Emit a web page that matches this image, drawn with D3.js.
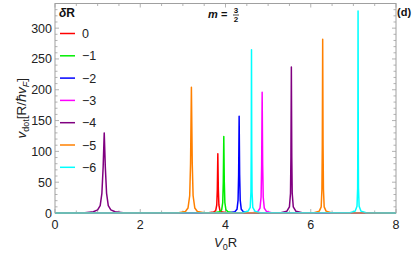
<!DOCTYPE html>
<html>
<head>
<meta charset="utf-8">
<script src="https://cdn.jsdelivr.net/npm/d3@7"></script>
<style>
  body { margin: 0; background: #fff; }
  svg { display: block; font-family: "Liberation Sans", Arial, sans-serif; }
</style>
</head>
<body>
<div id="chart"></div>
<script>
// values
const seriesLabels = ["0", "\u22121", "\u22122", "\u22123", "\u22124", "\u22125", "\u22126"];
const seriesColors = ["#ff0000", "#00ee00", "#0000ff", "#ff00ff", "#800080", "#ff8000", "#00ffff"];

const curve0 = [[0,0],[3.6,0.5],[3.72,1.5],[3.77,4],[3.795,13],[3.808,38],[3.82,96],[3.832,38],[3.845,13],[3.87,4],[3.92,1.5],[4.05,0.5],[8,0]];
const curve1 = [[0,0],[3.74,0.5],[3.86,2],[3.91,5],[3.935,17],[3.948,50],[3.96,124],[3.972,50],[3.985,17],[4.01,5],[4.06,2],[4.18,0.5],[8,0]];
const curve2 = [[0,0],[4.1,0.5],[4.22,2],[4.27,6],[4.295,21],[4.308,62],[4.32,157],[4.332,62],[4.345,21],[4.37,6],[4.42,2],[4.54,0.5],[8,0]];
const curve3 = [[0,0],[4.64,0.5],[4.76,2.5],[4.81,8],[4.835,26],[4.848,78],[4.86,196],[4.872,78],[4.885,26],[4.91,8],[4.96,2.5],[5.08,0.5],[8,0]];
const curve4 = [[0,0],[0.7,0.5],[0.9,2],[1.0,5],[1.06,12],[1.1,32],[1.13,75],[1.155,130],[1.18,75],[1.21,32],[1.25,12],[1.31,5],[1.41,2],[1.6,0.5],
                [5.3,0.5],[5.44,3],[5.5,10],[5.525,32],[5.535,90],[5.545,237],[5.555,90],[5.565,32],[5.59,10],[5.65,3],[5.8,0.5],[8,0]];
const curve5 = [[0,0],[2.9,0.5],[3.06,2.5],[3.12,8],[3.16,28],[3.18,80],[3.2,204],[3.22,80],[3.24,28],[3.28,8],[3.34,2.5],[3.5,0.5],
                [6.08,0.5],[6.2,3],[6.245,10],[6.262,38],[6.271,110],[6.28,282],[6.289,110],[6.298,38],[6.315,10],[6.36,3],[6.48,0.5],[8,0]];
const curve6 = [[0,0],[4.4,0.5],[4.53,3],[4.58,9],[4.597,34],[4.604,100],[4.61,265],[4.616,100],[4.623,34],[4.64,9],[4.69,3],[4.82,0.5],
                [6.92,0.5],[7.04,3],[7.085,11],[7.1,40],[7.105,120],[7.11,328],[7.115,120],[7.12,40],[7.135,11],[7.18,3],[7.3,0.5],[8,0]];
const curves = [curve0, curve1, curve2, curve3, curve4, curve5, curve6];

const xTicks = [0, 2, 4, 6, 8];
const yTicks = [0, 50, 100, 150, 200, 250, 300];
const xDomain = [0, 8];
const yDomain = [0, 340];

const width = 415, height = 254;
const margin = {top: 3.5, right: 19, bottom: 41, left: 55};

let svg = d3.select("#chart")
    .append("svg")
    .attr("width", width)
    .attr("height", height);

let x = d3.scaleLinear().domain(xDomain).range([margin.left, width - margin.right]);
let y = d3.scaleLinear().domain(yDomain).range([height - margin.bottom, margin.top]);

svg.append("defs").append("clipPath").attr("id", "clip")
    .append("rect")
    .attr("x", x(0)).attr("y", y(340))
    .attr("width", x(8) - x(0)).attr("height", y(0) - y(340) + 1.5);

// frame ticks (Mathematica style: ticks on all four sides)
const frameColor = "#a0a0a0";
let minorX = d3.range(0, 8.01, 0.5);
let minorY = d3.range(0, 341, 10);

let ticksG = svg.append("g").attr("stroke", frameColor).attr("stroke-width", 0.8);
minorX.forEach(function(v) {
    let major = xTicks.includes(v);
    let len = major ? 4 : 2.5;
    ticksG.append("line").attr("x1", x(v)).attr("x2", x(v)).attr("y1", y(0)).attr("y2", y(0) - len);
    ticksG.append("line").attr("x1", x(v)).attr("x2", x(v)).attr("y1", y(340)).attr("y2", y(340) + len);
});
minorY.forEach(function(v) {
    let major = yTicks.includes(v);
    let len = major ? 4 : 2.5;
    ticksG.append("line").attr("y1", y(v)).attr("y2", y(v)).attr("x1", x(0)).attr("x2", x(0) + len);
    ticksG.append("line").attr("y1", y(v)).attr("y2", y(v)).attr("x1", x(8)).attr("x2", x(8) - len);
});

// curves
let line = d3.line()
    .x(function(d) { return x(d[0]); })
    .y(function(d) { return y(d[1]); });

let curvesG = svg.append("g").attr("clip-path", "url(#clip)");
curves.forEach(function(c, i) {
    curvesG.append("path")
        .datum(c)
        .attr("fill", "none")
        .attr("stroke", seriesColors[i])
        .attr("stroke-width", 1.5)
        .attr("stroke-linejoin", "round")
        .attr("d", line);
});

// frame
svg.append("rect")
    .attr("x", x(0)).attr("y", y(340))
    .attr("width", x(8) - x(0)).attr("height", y(0) - y(340))
    .attr("fill", "none")
    .attr("stroke", frameColor)
    .attr("stroke-width", 1);

// tick labels
svg.append("g").selectAll("text").data(xTicks).join("text")
    .attr("x", function(d) { return x(d); })
    .attr("y", y(0) + 16)
    .attr("text-anchor", "middle")
    .style("font-size", "12.5px")
    .attr("fill", "#222")
    .text(function(d) { return d; });

svg.append("g").selectAll("text").data(yTicks).join("text")
    .attr("x", x(0) - 3)
    .attr("y", function(d) { return y(d) + 4.5; })
    .attr("text-anchor", "end")
    .style("font-size", "12.5px")
    .attr("fill", "#222")
    .text(function(d) { return d; });

// axis labels
let xl = svg.append("text")
    .attr("x", (x(0) + x(8)) / 2)
    .attr("y", 247)
    .attr("text-anchor", "middle")
    .style("font-size", "13px")
    .attr("fill", "#222");
xl.append("tspan").style("font-style", "italic").text("V");
xl.append("tspan").attr("dy", 3).style("font-size", "9px").text("0");
xl.append("tspan").attr("dy", -3).text("R");

let yl = svg.append("text")
    .attr("transform", `translate(26, ${(y(0) + y(340)) / 2}) rotate(-90)`)
    .attr("text-anchor", "middle")
    .style("font-size", "13.5px")
    .attr("fill", "#222");
yl.append("tspan").style("font-style", "italic").text("v");
yl.append("tspan").attr("dy", 3).style("font-size", "9px").text("dot");
yl.append("tspan").attr("dy", -3).text("[R/\u210F");
yl.append("tspan").style("font-style", "italic").text("v");
yl.append("tspan").attr("dy", 3).style("font-size", "9px").style("font-style", "italic").text("F");
yl.append("tspan").attr("dy", -3).text("]");

// title m = 3/2
let tg = svg.append("g").attr("fill", "#111").style("font-weight", "bold");
tg.append("text").attr("x", 208).attr("y", 18).style("font-size", "11px")
    .style("font-style", "italic").text("m");
tg.append("text").attr("x", 221).attr("y", 18).style("font-size", "11px").text("=");
tg.append("text").attr("x", 236).attr("y", 13).attr("text-anchor", "middle").style("font-size", "8px").text("3");
tg.append("line").attr("x1", 233).attr("x2", 239).attr("y1", 15).attr("y2", 15).attr("stroke", "#111").attr("stroke-width", 0.8);
tg.append("text").attr("x", 236).attr("y", 22).attr("text-anchor", "middle").style("font-size", "8px").text("2");

svg.append("text").attr("x", 397).attr("y", 16)
    .style("font-size", "11px").style("font-weight", "bold").attr("fill", "#111").text("(d)");

// legend
let lt = svg.append("text").attr("x", 59).attr("y", 17)
    .style("font-size", "12px").style("font-weight", "bold").attr("fill", "#111");
lt.append("tspan").style("font-style", "italic").text("\u03B4");
lt.append("tspan").text("R");

let leg = svg.append("g").selectAll("g").data(seriesLabels).join("g")
    .attr("transform", function(d, i) { return `translate(0, ${33.5 + i * 22.3})`; });
leg.append("line")
    .attr("x1", 60).attr("x2", 75).attr("y1", 0).attr("y2", 0)
    .attr("stroke", function(d, i) { return seriesColors[i]; })
    .attr("stroke-width", 1.5);
leg.append("text")
    .attr("x", 82).attr("y", 4.5)
    .style("font-size", "12.5px").attr("fill", "#222")
    .text(function(d) { return d; });
</script>
</body>
</html>
